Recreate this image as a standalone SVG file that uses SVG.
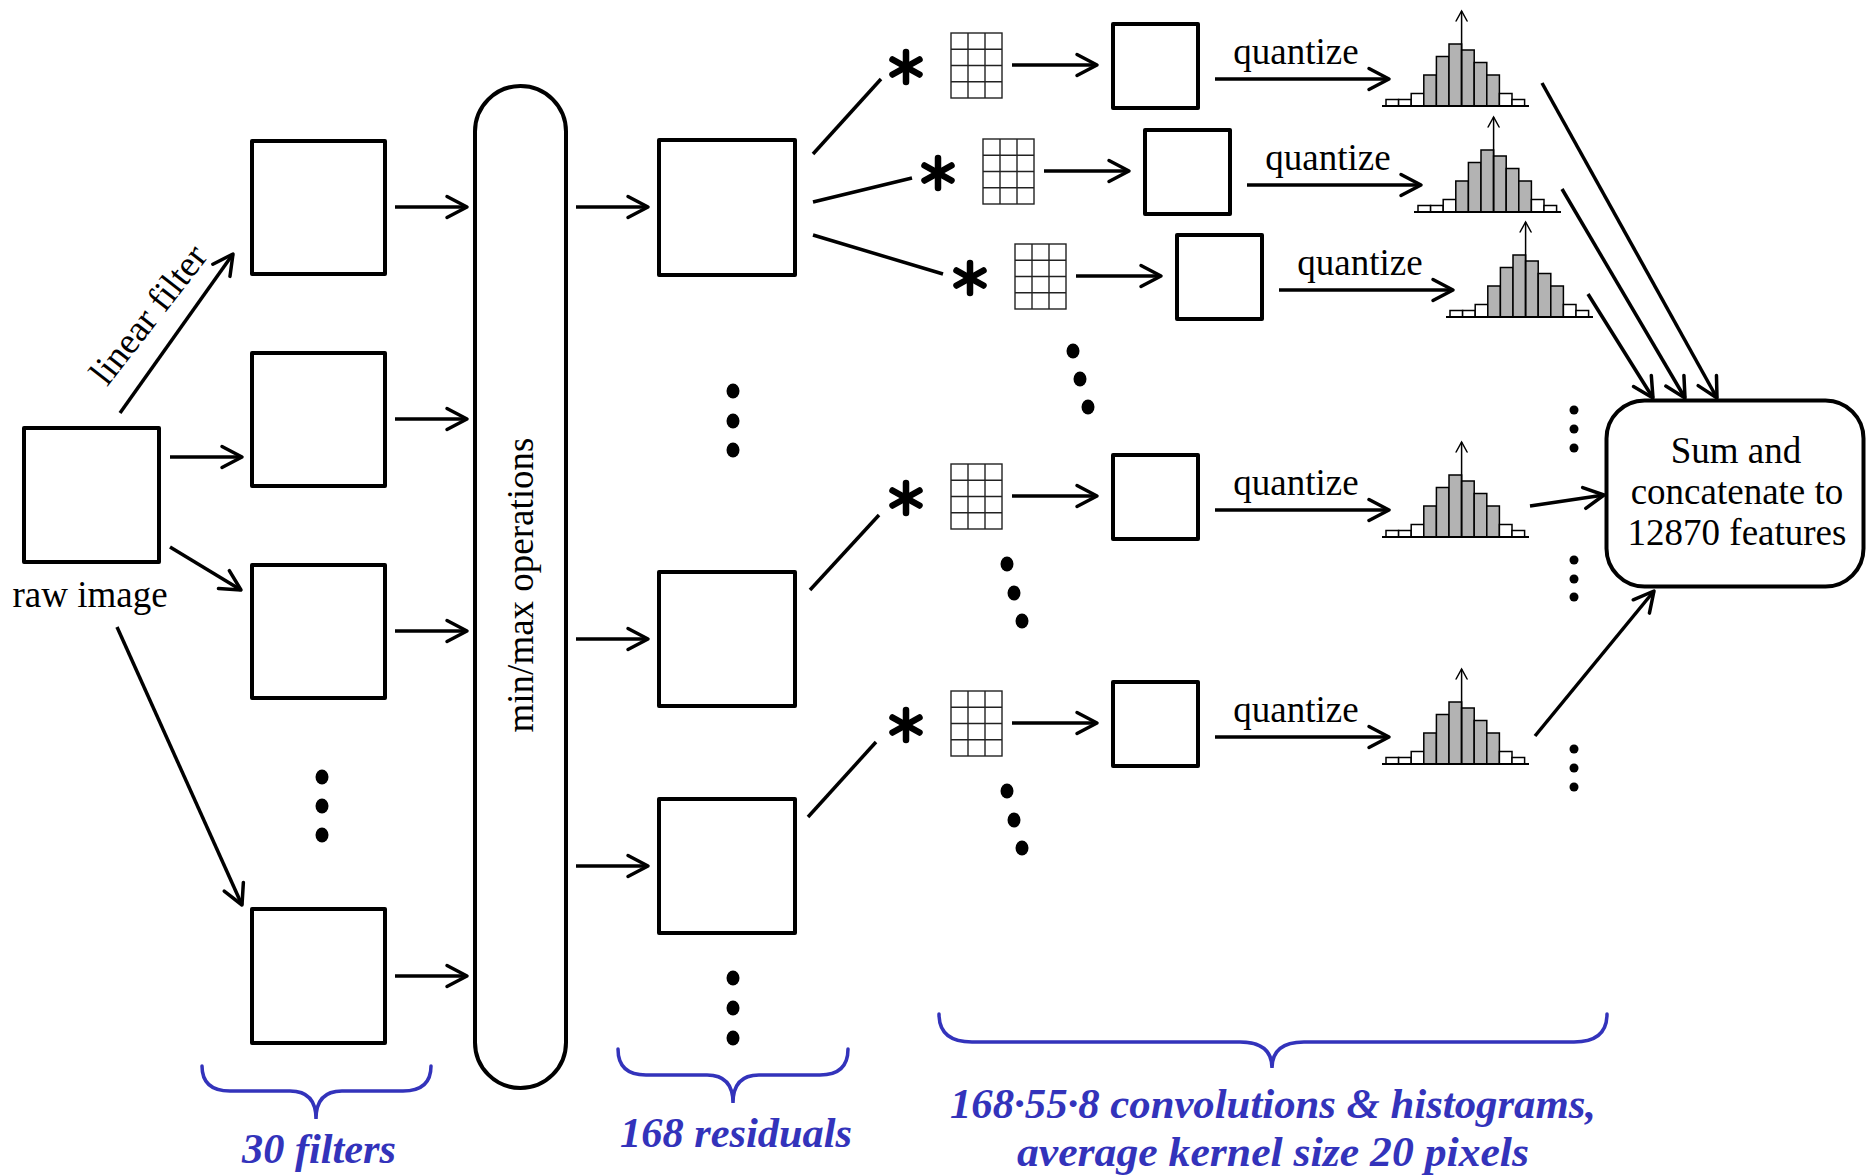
<svg xmlns="http://www.w3.org/2000/svg" xmlns:xlink="http://www.w3.org/1999/xlink" width="1866" height="1175" viewBox="0 0 1866 1175">
<style>
.box{fill:#fff;stroke:#000;stroke-width:4;stroke-linejoin:round}
.conn{fill:none;stroke:#000;stroke-width:3.5;stroke-linecap:butt}
.t{font-family:"Liberation Serif","Times New Roman",serif;font-size:37px;fill:#000}
.lbl{font-family:"Liberation Serif","Times New Roman",serif;font-size:42px;font-style:italic;font-weight:bold;fill:#3333bb}
.brace{fill:none;stroke:#3333bb;stroke-width:3.5;stroke-linecap:round}
.gridl{fill:none;stroke:#222;stroke-width:1.4}
.bar{stroke:#000;stroke-width:1.5}
.dot{fill:#000}
</style>
<defs>
<marker id="ah" markerUnits="userSpaceOnUse" viewBox="-26 -15 32 30" refX="0" refY="0" markerWidth="32" markerHeight="30" orient="auto" overflow="visible">
<path d="M-20,-10.5 L0,0 L-20,10.5" fill="none" stroke="#000" stroke-width="3.5" stroke-linecap="round" stroke-linejoin="round"/>
</marker>
<marker id="ahs" markerUnits="userSpaceOnUse" viewBox="-14 -8 16 16" refX="0" refY="0" markerWidth="16" markerHeight="16" orient="auto" overflow="visible">
<path d="M-10,-5.5 L0,0 L-10,5.5" fill="none" stroke="#000" stroke-width="1.5" stroke-linecap="round"/>
</marker>
<g id="grid">
<rect x="0" y="0" width="51" height="65" class="gridl"/>
<path class="gridl" d="M17,0V65M34,0V65M0,16.25H51M0,32.5H51M0,48.75H51"/>
</g>
<g id="star" stroke="#000" stroke-width="6.5" stroke-linecap="round">
<line x1="0" y1="-15" x2="0" y2="15"/>
<line x1="-13.5" y1="-7.5" x2="13.5" y2="7.5"/>
<line x1="-13.5" y1="7.5" x2="13.5" y2="-7.5"/>
</g>
<g id="hist">
<rect class="bar" x="0" y="-6.5" width="12.6" height="6.5" fill="#fff"/>
<rect class="bar" x="12.6" y="-6.5" width="12.6" height="6.5" fill="#fff"/>
<rect class="bar" x="25.2" y="-12.5" width="12.6" height="12.5" fill="#fff"/>
<rect class="bar" x="37.8" y="-31" width="12.6" height="31" fill="#b3b3b3"/>
<rect class="bar" x="50.4" y="-49.5" width="12.6" height="49.5" fill="#b3b3b3"/>
<rect class="bar" x="63" y="-62" width="12.6" height="62" fill="#b3b3b3"/>
<rect class="bar" x="75.6" y="-56" width="12.6" height="56" fill="#b3b3b3"/>
<rect class="bar" x="88.2" y="-43.5" width="12.6" height="43.5" fill="#b3b3b3"/>
<rect class="bar" x="100.8" y="-31" width="12.6" height="31" fill="#b3b3b3"/>
<rect class="bar" x="113.4" y="-12.5" width="12.6" height="12.5" fill="#fff"/>
<rect class="bar" x="126" y="-6.5" width="12.6" height="6.5" fill="#fff"/>
<line x1="-4" y1="0" x2="143" y2="0" stroke="#000" stroke-width="2"/>
<line x1="75.6" y1="0" x2="75.6" y2="-95" stroke="#000" stroke-width="1.5" marker-end="url(#ahs)"/>
</g>
</defs>
<rect width="1866" height="1175" fill="#fff"/>

<g id="raw-image">
<rect class="box" x="24" y="428" width="135" height="134"/>
<text class="t" x="90" y="607" text-anchor="middle">raw image</text>
</g>

<g id="filter-1"><rect class="box" x="252" y="141" width="133" height="133"/></g>
<g id="filter-2"><rect class="box" x="252" y="353" width="133" height="133"/></g>
<g id="filter-3"><rect class="box" x="252" y="565" width="133" height="133"/></g>
<g id="filter-dots">
<ellipse class="dot" cx="322" cy="777" rx="6.5" ry="7.5"/>
<ellipse class="dot" cx="322" cy="806" rx="6.5" ry="7.5"/>
<ellipse class="dot" cx="322" cy="835" rx="6.5" ry="7.5"/>
</g>
<g id="filter-4"><rect class="box" x="252" y="909" width="133" height="134"/></g>

<g id="minmax">
<rect class="box" x="475" y="86" width="91" height="1002" rx="45.5" ry="45.5" stroke-width="4.5"/>
<text class="t" transform="translate(533,585) rotate(-90)" text-anchor="middle">min/max operations</text>
</g>

<g id="residual-1"><rect class="box" x="659" y="140" width="136" height="135"/></g>
<g id="residual-dots-1">
<ellipse class="dot" cx="733" cy="391" rx="6.5" ry="7.5"/>
<ellipse class="dot" cx="733" cy="421" rx="6.5" ry="7.5"/>
<ellipse class="dot" cx="733" cy="450" rx="6.5" ry="7.5"/>
</g>
<g id="residual-2"><rect class="box" x="659" y="572" width="136" height="134"/></g>
<g id="residual-3"><rect class="box" x="659" y="799" width="136" height="134"/></g>
<g id="residual-dots-2">
<ellipse class="dot" cx="733" cy="978" rx="6.5" ry="7.5"/>
<ellipse class="dot" cx="733" cy="1008" rx="6.5" ry="7.5"/>
<ellipse class="dot" cx="733" cy="1038" rx="6.5" ry="7.5"/>
</g>

<g id="conv-row-1">
<use xlink:href="#star" x="906" y="67"/>
<use xlink:href="#grid" x="951" y="33"/>
<rect class="box" x="1113" y="24" width="85" height="84"/>
<text class="t" x="1296" y="64" text-anchor="middle">quantize</text>
<use xlink:href="#hist" x="1386" y="106"/>
</g>
<g id="conv-row-2" transform="translate(32,106)">
<use xlink:href="#star" x="906" y="67"/>
<use xlink:href="#grid" x="951" y="33"/>
<rect class="box" x="1113" y="24" width="85" height="84"/>
<text class="t" x="1296" y="64" text-anchor="middle">quantize</text>
<use xlink:href="#hist" x="1386" y="106"/>
</g>
<g id="conv-row-3" transform="translate(64,211)">
<use xlink:href="#star" x="906" y="67"/>
<use xlink:href="#grid" x="951" y="33"/>
<rect class="box" x="1113" y="24" width="85" height="84"/>
<text class="t" x="1296" y="64" text-anchor="middle">quantize</text>
<use xlink:href="#hist" x="1386" y="106"/>
</g>
<g id="conv-row-4" transform="translate(0,431)">
<use xlink:href="#star" x="906" y="67"/>
<use xlink:href="#grid" x="951" y="33"/>
<rect class="box" x="1113" y="24" width="85" height="84"/>
<text class="t" x="1296" y="64" text-anchor="middle">quantize</text>
<use xlink:href="#hist" x="1386" y="106"/>
</g>
<g id="conv-row-5" transform="translate(0,658)">
<use xlink:href="#star" x="906" y="67"/>
<use xlink:href="#grid" x="951" y="33"/>
<rect class="box" x="1113" y="24" width="85" height="84"/>
<text class="t" x="1296" y="64" text-anchor="middle">quantize</text>
<use xlink:href="#hist" x="1386" y="106"/>
</g>

<g id="conv-dots">
<ellipse class="dot" cx="1073" cy="351" rx="6.5" ry="7.5"/>
<ellipse class="dot" cx="1080" cy="379" rx="6.5" ry="7.5"/>
<ellipse class="dot" cx="1088" cy="407" rx="6.5" ry="7.5"/>
<ellipse class="dot" cx="1007" cy="564" rx="6.5" ry="7.5"/>
<ellipse class="dot" cx="1014" cy="593" rx="6.5" ry="7.5"/>
<ellipse class="dot" cx="1022" cy="621" rx="6.5" ry="7.5"/>
<ellipse class="dot" cx="1007" cy="791" rx="6.5" ry="7.5"/>
<ellipse class="dot" cx="1014" cy="820" rx="6.5" ry="7.5"/>
<ellipse class="dot" cx="1022" cy="848" rx="6.5" ry="7.5"/>
</g>
<g id="feature-dots">
<circle class="dot" cx="1574" cy="410" r="4.5"/>
<circle class="dot" cx="1574" cy="429" r="4.5"/>
<circle class="dot" cx="1574" cy="448" r="4.5"/>
<circle class="dot" cx="1574" cy="560" r="4.5"/>
<circle class="dot" cx="1574" cy="579" r="4.5"/>
<circle class="dot" cx="1574" cy="597" r="4.5"/>
<circle class="dot" cx="1574" cy="749" r="4.5"/>
<circle class="dot" cx="1574" cy="768" r="4.5"/>
<circle class="dot" cx="1574" cy="787" r="4.5"/>
</g>

<g id="sum-box">
<rect class="box" x="1606.5" y="400.5" width="257" height="186" rx="38" ry="38" stroke-width="5"/>
<text class="t" x="1736" y="463" text-anchor="middle">Sum and</text>
<text class="t" x="1737" y="504" text-anchor="middle">concatenate to</text>
<text class="t" x="1737" y="545" text-anchor="middle">12870 features</text>
</g>

<g id="connectors">
<line class="conn" x1="120" y1="413" x2="233" y2="254" marker-end="url(#ah)"/>
<text class="t" transform="translate(158,322) rotate(-52)" text-anchor="middle">linear filter</text>
<line class="conn" x1="170" y1="457" x2="242" y2="457" marker-end="url(#ah)"/>
<line class="conn" x1="170" y1="547" x2="241" y2="590" marker-end="url(#ah)"/>
<line class="conn" x1="117" y1="627" x2="242" y2="905" marker-end="url(#ah)"/>
<line class="conn" x1="395" y1="207" x2="467" y2="207" marker-end="url(#ah)"/>
<line class="conn" x1="395" y1="419" x2="467" y2="419" marker-end="url(#ah)"/>
<line class="conn" x1="395" y1="631" x2="467" y2="631" marker-end="url(#ah)"/>
<line class="conn" x1="395" y1="976" x2="467" y2="976" marker-end="url(#ah)"/>
<line class="conn" x1="576" y1="207" x2="648" y2="207" marker-end="url(#ah)"/>
<line class="conn" x1="576" y1="639" x2="648" y2="639" marker-end="url(#ah)"/>
<line class="conn" x1="576" y1="866" x2="648" y2="866" marker-end="url(#ah)"/>
<line class="conn" x1="813" y1="154" x2="881" y2="79"/>
<line class="conn" x1="813" y1="202" x2="912" y2="178"/>
<line class="conn" x1="813" y1="235" x2="943" y2="274"/>
<line class="conn" x1="810" y1="590" x2="879" y2="515"/>
<line class="conn" x1="808" y1="817" x2="876" y2="742"/>
<g id="row-arrows">
<line class="conn" x1="1012" y1="65" x2="1097" y2="65" marker-end="url(#ah)"/>
<line class="conn" x1="1215" y1="79" x2="1389" y2="79" marker-end="url(#ah)"/>
<line class="conn" x1="1044" y1="171" x2="1129" y2="171" marker-end="url(#ah)"/>
<line class="conn" x1="1247" y1="185" x2="1421" y2="185" marker-end="url(#ah)"/>
<line class="conn" x1="1076" y1="276" x2="1161" y2="276" marker-end="url(#ah)"/>
<line class="conn" x1="1279" y1="290" x2="1453" y2="290" marker-end="url(#ah)"/>
<line class="conn" x1="1012" y1="496" x2="1097" y2="496" marker-end="url(#ah)"/>
<line class="conn" x1="1215" y1="510" x2="1389" y2="510" marker-end="url(#ah)"/>
<line class="conn" x1="1012" y1="723" x2="1097" y2="723" marker-end="url(#ah)"/>
<line class="conn" x1="1215" y1="737" x2="1389" y2="737" marker-end="url(#ah)"/>
</g>
<line class="conn" x1="1542" y1="83" x2="1717" y2="398" marker-end="url(#ah)"/>
<line class="conn" x1="1562" y1="189" x2="1685" y2="398" marker-end="url(#ah)"/>
<line class="conn" x1="1588" y1="294" x2="1653" y2="398" marker-end="url(#ah)"/>
<line class="conn" x1="1530" y1="506" x2="1604" y2="495" marker-end="url(#ah)"/>
<line class="conn" x1="1535" y1="736" x2="1654" y2="591" marker-end="url(#ah)"/>
</g>

<g id="brace-filters">
<path class="brace" d="M202,1066 Q202,1091 230,1091 L290,1091 Q316,1091 316,1119 Q316,1091 342,1091 L403,1091 Q431,1091 431,1066"/>
<text class="lbl" x="319" y="1163" text-anchor="middle" textLength="154" lengthAdjust="spacingAndGlyphs">30 filters</text>
</g>
<g id="brace-residuals">
<path class="brace" d="M618,1049 Q618,1075 646,1075 L707,1075 Q733,1075 733,1103 Q733,1075 759,1075 L820,1075 Q848,1075 848,1049"/>
<text class="lbl" x="736" y="1147" text-anchor="middle" textLength="232" lengthAdjust="spacingAndGlyphs">168 residuals</text>
</g>
<g id="brace-convolutions">
<path class="brace" d="M939,1014 Q939,1042 972,1042 L1240,1042 Q1272,1042 1272,1068 Q1272,1042 1304,1042 L1574,1042 Q1607,1042 1607,1014"/>
<text class="lbl" x="1273" y="1118" text-anchor="middle" textLength="646" lengthAdjust="spacingAndGlyphs">168·55·8 convolutions &amp; histograms,</text>
<text class="lbl" x="1273" y="1166" text-anchor="middle" textLength="512" lengthAdjust="spacingAndGlyphs">average kernel size 20 pixels</text>
</g>
</svg>
